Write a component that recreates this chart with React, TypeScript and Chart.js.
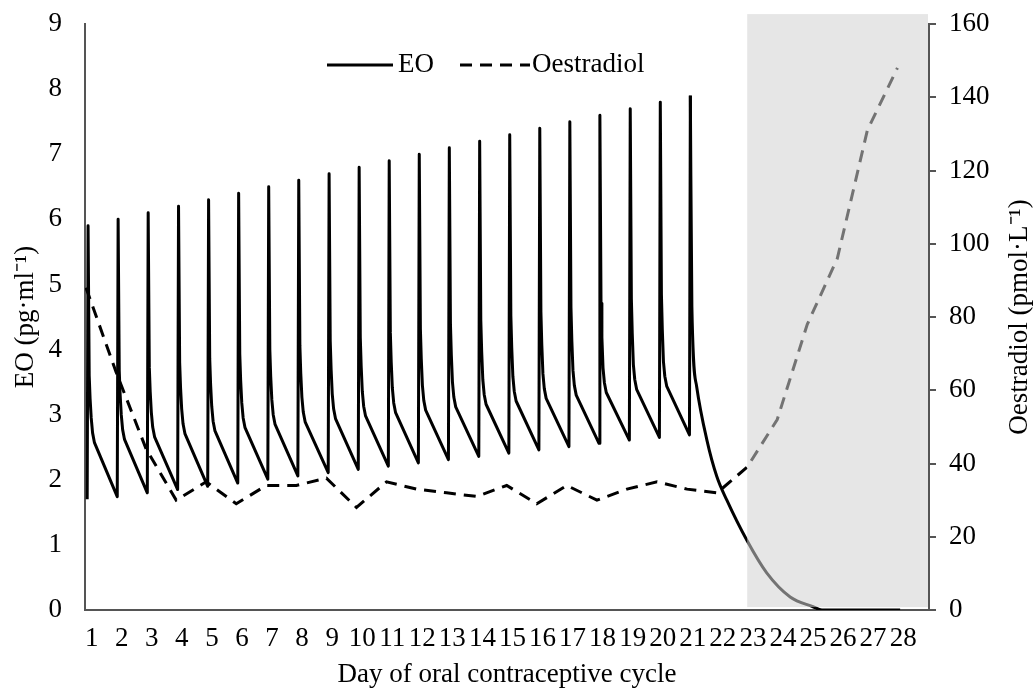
import React, { useEffect, useRef } from 'react';
import { Chart, registerables } from 'chart.js';

Chart.register(...registerables);

// ---------- data ----------
const dayLabels = ['1', '2', '3', '4', '5', '6', '7', '8', '9', '10', '11', '12', '13', '14',
  '15', '16', '17', '18', '19', '20', '21', '22', '23', '24', '25', '26', '27', '28'];

// Oestradiol (pmol/L), one value per day
const oestradiolDays = [1, 2, 3, 4, 5, 6, 7, 8, 9, 10, 11, 12, 13, 14, 15, 16, 17, 18, 19, 20, 21, 22, 23, 24, 25, 26, 27, 28];
const oestradiol = [88, 65, 44, 30, 35, 29, 34, 34, 36, 28, 35, 33, 32, 31, 34, 29, 34, 30, 33, 35, 33, 32, 39, 52, 78, 96, 131, 148];

// EO (pg/ml): daily dose spikes
const eoDoseDays = [1.04, 2.04, 3.04, 4.05, 5.05, 6.05, 7.05, 8.05, 9.06, 10.06, 11.06, 12.06, 13.06, 14.07,
  15.07, 16.07, 17.07, 18.07, 19.08, 20.08, 21.08];
const eoPreDose = [1.70, 1.74, 1.80, 1.85, 1.90, 1.95, 2.01, 2.06, 2.11, 2.16, 2.21, 2.26, 2.31, 2.36,
  2.41, 2.46, 2.51, 2.56, 2.61, 2.65, 2.69];
const eoPeaks = [5.9, 6.0, 6.1, 6.2, 6.3, 6.4, 6.5, 6.6, 6.7, 6.8, 6.9, 7.0, 7.1, 7.2, 7.3, 7.4, 7.5, 7.6, 7.7, 7.8, 7.9];
const eoPeakHour = 0.7;
// sample times after each dose (hours) and the values at them
const eoDecayHours = [1.6, 2.3, 3.2, 4.3, 5.8];
const eoDecay1 = [3.60, 3.67, 3.73, 3.80, 3.86, 3.93, 4.00, 4.06, 4.13, 4.19, 4.26, 4.32, 4.39, 4.45, 4.52, 4.58, 4.65, 4.71, 4.78, 4.85];
const eoDecay2 = [3.25, 3.31, 3.36, 3.42, 3.47, 3.53, 3.59, 3.64, 3.70, 3.75, 3.81, 3.86, 3.92, 3.97, 4.03, 4.08, 4.14, 4.19, 4.25, 4.31];
const eoDecay3 = [2.95, 3.00, 3.04, 3.09, 3.13, 3.18, 3.23, 3.27, 3.32, 3.36, 3.41, 3.45, 3.50, 3.54, 3.59, 3.63, 3.68, 3.72, 3.77, 3.82];
const eoDecay4 = [2.72, 2.77, 2.81, 2.86, 2.90, 2.95, 3.00, 3.04, 3.09, 3.13, 3.18, 3.22, 3.27, 3.31, 3.36, 3.40, 3.45, 3.49, 3.54, 3.59];
const eoDecay5 = [2.57, 2.62, 2.66, 2.71, 2.75, 2.80, 2.85, 2.89, 2.94, 2.98, 3.03, 3.07, 3.12, 3.16, 3.21, 3.25, 3.30, 3.34, 3.39, 3.44];
// washout after the last dose
const eoWashoutDays = [21.16, 21.32, 21.66, 21.99, 22.32, 22.99, 23.65, 24.43, 25.19, 25.49, 28.09];
const eoWashout = [4.66, 3.43, 2.61, 2.05, 1.69, 1.07, 0.57, 0.20, 0.05, 0.00, 0.00];

// pill-free interval shading (x from day, y on the oestradiol axis)
const shadeFromDay = 23.0;
const shadeTop = 162.7;
const shadeBottom = 0.8;

const labelOffset = 0.19;
const xTitle = 'Day of oral contraceptive cycle';
const yTitle = 'EO (pg·ml⁻¹)';
const y2Title = 'Oestradiol (pmol·L⁻¹)';
const seriesLabels = ['EO', 'Oestradiol'];

// ---------- styles ----------
const FONT_FAMILY = "'Liberation Serif', 'Times New Roman', serif";
const FONT_SIZE = 27;
const AXIS_COLOR = '#555555';

function buildEoDoses() {
  const decays = [eoDecay1, eoDecay2, eoDecay3, eoDecay4, eoDecay5];
  const pts: { x: number; y: number }[] = [];
  for (let k = 0; k < eoDoseDays.length; k++) {
    const s = eoDoseDays[k];
    pts.push({ x: s, y: eoPreDose[k] });
    pts.push({ x: s + eoPeakHour / 24, y: eoPeaks[k] });
    if (k < eoDecay1.length) {
      for (let j = 0; j < decays.length; j++) pts.push({ x: s + eoDecayHours[j] / 24, y: decays[j][k] });
    }
  }
  return pts;
}

function buildEoWashout() {
  const last = eoDoseDays.length - 1;
  const pts = [{ x: eoDoseDays[last] + eoPeakHour / 24, y: eoPeaks[last] }];
  for (let j = 0; j < eoWashoutDays.length; j++) pts.push({ x: eoWashoutDays[j], y: eoWashout[j] });
  return pts;
}

const shadePlugin = {
  id: 'shade',
  afterDatasetsDraw(chart: any) {
    const { ctx, chartArea, scales } = chart;
    const x0 = scales.x.getPixelForValue(shadeFromDay);
    const x1 = chartArea.right - 1;
    const yt = scales.y2.getPixelForValue(shadeTop);
    const yb = scales.y2.getPixelForValue(shadeBottom);
    ctx.save();
    ctx.fillStyle = 'rgba(210,210,210,0.55)';
    ctx.fillRect(x0, yt, x1 - x0, yb - yt);
    ctx.restore();
  },
};

const decorPlugin = {
  id: 'decor',
  afterDraw(chart: any) {
    const { ctx, chartArea } = chart;
    ctx.save();
    ctx.font = `${FONT_SIZE}px ${FONT_FAMILY}`;
    ctx.fillStyle = '#000';
    ctx.textBaseline = 'middle';
    // legend
    const ly = chartArea.top + 41;
    const lx = chartArea.left + 242;
    ctx.strokeStyle = '#000';
    ctx.lineWidth = 3;
    ctx.beginPath();
    ctx.moveTo(lx, ly);
    ctx.lineTo(lx + 66, ly);
    ctx.stroke();
    ctx.textAlign = 'left';
    ctx.fillText(seriesLabels[0], lx + 71, ly);
    ctx.setLineDash([12, 8]);
    ctx.beginPath();
    ctx.moveTo(lx + 133, ly);
    ctx.lineTo(lx + 203, ly);
    ctx.stroke();
    ctx.setLineDash([]);
    ctx.fillText(seriesLabels[1], lx + 205, ly);
    // right axis title (reads bottom to top)
    ctx.translate(chart.width - 14, (chartArea.top + chartArea.bottom) / 2);
    ctx.rotate(-Math.PI / 2);
    ctx.textAlign = 'center';
    ctx.fillText(y2Title, 0, 0);
    ctx.restore();
  },
};

export default function App() {
  const ref = useRef<HTMLCanvasElement | null>(null);
  useEffect(() => {
    if (!ref.current) return;
    const font = { family: FONT_FAMILY, size: FONT_SIZE };
    const eoStyle = {
      yAxisID: 'y',
      borderColor: '#000',
      borderWidth: 3,
      borderJoinStyle: 'round',
      pointRadius: 0,
      fill: false,
    };
    const chart = new Chart(ref.current, {
      type: 'line',
      data: {
        datasets: [
          { ...eoStyle, label: seriesLabels[0], data: buildEoDoses(), tension: 0 },
          { ...eoStyle, label: seriesLabels[0], data: buildEoWashout(), cubicInterpolationMode: 'monotone' },
          {
            label: seriesLabels[1],
            data: oestradiolDays.map((d, i) => ({ x: d, y: oestradiol[i] })),
            yAxisID: 'y2',
            borderColor: '#000',
            borderWidth: 3,
            borderDash: [12, 8],
            borderCapStyle: 'butt',
            pointRadius: 0,
            tension: 0,
            fill: false,
          },
        ],
      },
      options: {
        animation: false,
        responsive: false,
        layout: { padding: { top: 24, left: 0, right: 0, bottom: 0 } },
        plugins: { legend: { display: false }, tooltip: { enabled: false } },
        scales: {
          x: {
            type: 'linear',
            min: 0.967,
            max: 29.05,
            afterBuildTicks: (scale: any) => {
              scale.ticks = dayLabels.map((_, i) => ({ value: i + 1 + labelOffset }));
            },
            ticks: {
              autoSkip: false,
              maxRotation: 0,
              minRotation: 0,
              padding: 13,
              color: '#000',
              font,
              callback: (_v: any, i: number) => dayLabels[i],
            },
            grid: { display: false, drawTicks: false },
            border: { display: true, color: AXIS_COLOR, width: 2 },
            title: { display: true, text: xTitle, color: '#000', font, padding: { top: 0, bottom: 0 } },
            afterFit: (s: any) => { s.height = 81; s.paddingLeft = 0; s.paddingRight = 0; },
          },
          y: {
            position: 'left',
            min: 0,
            max: 9,
            ticks: { stepSize: 1, padding: 23, color: '#000', font },
            grid: { display: false, drawTicks: false },
            border: { display: true, color: AXIS_COLOR, width: 2 },
            title: { display: true, text: yTitle, color: '#000', font, padding: { top: 10, bottom: 0 } },
            afterFit: (s: any) => { s.width = 85; s.paddingTop = 0; s.paddingBottom = 0; },
          },
          y2: {
            position: 'right',
            min: 0,
            max: 160,
            ticks: { stepSize: 20, padding: 13, color: '#000', font },
            grid: { display: true, drawOnChartArea: false, drawTicks: true, tickLength: 7, color: AXIS_COLOR, lineWidth: 2 },
            border: { display: true, color: AXIS_COLOR, width: 2 },
            afterFit: (s: any) => { s.width = 105; s.paddingTop = 0; s.paddingBottom = 0; },
          },
        },
      },
      plugins: [shadePlugin, decorPlugin],
    } as any);
    return () => chart.destroy();
  }, []);
  return (
    <div style={{ position: 'absolute', left: 0, top: 0, width: 1034, height: 691, background: '#fff' }}>
      <canvas ref={ref} width={1034} height={691} />
    </div>
  );
}
